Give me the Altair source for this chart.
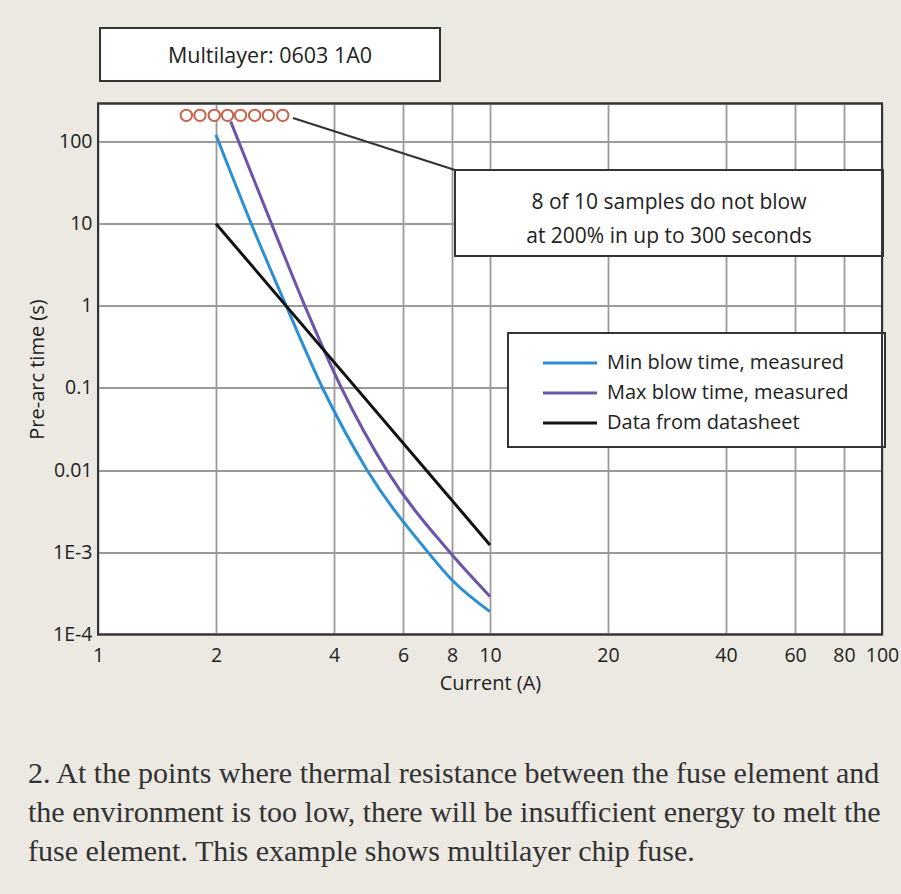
import altair as alt
import pandas as pd

# ---------------- data ----------------
series_names = ["Min blow time, measured", "Max blow time, measured", "Data from datasheet"]
series_colors = ["#2b90d0", "#6b55a8", "#111111"]

min_current = [2.0, 2.46, 3.02, 3.74, 4.86, 6.95, 8.0, 10.0]
min_time = [120, 10, 1, 0.1, 0.01, 0.001, 0.00046, 0.00019]

max_current = [2.18, 2.77, 3.37, 4.18, 5.45, 7.9, 10.0]
max_time = [175, 10, 1, 0.1, 0.01, 0.001, 0.00029]

ds_current = [2.0, 10.0]
ds_time = [10.0, 0.00123]

sample_current = [1.68, 1.82, 1.98, 2.14, 2.31, 2.51, 2.72, 2.96]
sample_time = [208, 208, 208, 208, 208, 208, 208, 208]

x_ticks = [1, 2, 4, 6, 8, 10, 20, 40, 60, 80, 100]
y_ticks = [0.0001, 0.001, 0.01, 0.1, 1, 10, 100]
y_tick_labels = ["1E-4", "1E-3", "0.01", "0.1", "1", "10", "100"]
x_domain = [1, 100]
y_domain = [0.0001, 290]

box_title = "Multilayer: 0603 1A0"
callout_lines = ["8 of 10 samples do not blow", "at 200% in up to 300 seconds"]
caption_lines = [
    "2. At the points where thermal resistance between the fuse element and",
    "the environment is too low, there will be insufficient energy to melt the",
    "fuse element. This example shows multilayer chip fuse.",
]

# ---------------- layout ----------------
W, H = 784, 531
PAD_L, PAD_T = 98, 103.5
SANS = "Open Sans"
SERIF = "Liberation Serif"
FS = 19.5
BG = "#ece9e3"
TXT = "#222222"
GRID = "#9a9a9a"

curves = pd.concat([
    pd.DataFrame({"series": series_names[0], "current": min_current, "time": min_time}),
    pd.DataFrame({"series": series_names[1], "current": max_current, "time": max_time}),
    pd.DataFrame({"series": series_names[2], "current": ds_current, "time": ds_time}),
], ignore_index=True)
samples = pd.DataFrame({"current": sample_current, "time": sample_time})

label_expr = ""
for v, lab in zip(y_ticks, y_tick_labels):
    label_expr += f"abs(log(datum.value) - log({v})) < 0.01 ? '{lab}' : "
label_expr += "''"

x_scale = alt.Scale(type="log", domain=x_domain, nice=False)
y_scale = alt.Scale(type="log", domain=y_domain, nice=False)

x_axis = alt.Axis(values=x_ticks, format="~g", grid=True, ticks=False, tickSize=0, domain=False,
                  labelFont=SANS, labelFontSize=FS, labelColor=TXT, labelPadding=12,
                  labelOverlap=False, labelBound=False, labelFlush=False,
                  title="Current (A)", titleFont=SANS, titleFontSize=20, titleFontWeight="normal",
                  titleColor=TXT, titlePadding=8,
                  gridColor=GRID, gridWidth=1.8, gridOpacity=1)
y_axis = alt.Axis(values=y_ticks, labelExpr=label_expr, grid=True, ticks=False, tickSize=0, domain=False,
                  labelFont=SANS, labelFontSize=FS, labelColor=TXT, labelPadding=6,
                  labelOverlap=False, labelBound=False, labelFlush=False,
                  title="Pre-arc time (s)", titleFont=SANS, titleFontSize=20, titleFontWeight="normal",
                  titleColor=TXT, titlePadding=5,
                  gridColor=GRID, gridWidth=1.8, gridOpacity=1)

color_scale = alt.Scale(domain=series_names, range=series_colors)

lines = alt.Chart(curves).mark_line(strokeWidth=3, interpolate="monotone").encode(
    x=alt.X("current:Q", scale=x_scale, axis=x_axis),
    y=alt.Y("time:Q", scale=y_scale, axis=y_axis),
    color=alt.Color("series:N", scale=color_scale, legend=None),
    detail="series:N",
)

points = alt.Chart(samples).mark_point(shape="circle", filled=False, size=130,
                                       strokeWidth=2, color="#c8644c", fill="white", fillOpacity=1).encode(
    x=alt.X("current:Q", scale=x_scale),
    y=alt.Y("time:Q", scale=y_scale),
)

one = alt.Data(values=[{}])

def box(x0, y0, x1, y1, fill_op=1):
    return alt.Chart(one).mark_rect(fill="white", fillOpacity=fill_op, stroke="#333333", strokeWidth=2).encode(
        x=alt.value(x0 - PAD_L), x2=alt.value(x1 - PAD_L),
        y=alt.value(y0 - PAD_T), y2=alt.value(y1 - PAD_T))

def text(t, x, y, size=FS, font=SANS, align="center", color=TXT, baseline="alphabetic"):
    return alt.Chart(one).mark_text(text=t, font=font, fontSize=size, align=align,
                                    baseline=baseline, color=color).encode(
        x=alt.value(x - PAD_L), y=alt.value(y - PAD_T))

leader = alt.Chart(one).mark_rule(color="#333333", strokeWidth=2).encode(
    x=alt.value(293 - PAD_L), y=alt.value(118 - PAD_T),
    x2=alt.value(455 - PAD_L), y2=alt.value(170 - PAD_T))

layers = [lines, leader, points]

# title box (above plot)
layers += [box(100, 28, 440, 81), text(box_title, 270, 63, size=21.5)]
# callout box
layers += [box(455, 170, 883, 256), text(callout_lines[0], 669, 209, size=21),
           text(callout_lines[1], 669, 243, size=21)]
# legend box
layers += [box(508, 333, 885, 447)]
legend_y = [363, 393, 423]
for name, col, ly in zip(series_names, series_colors, legend_y):
    layers.append(alt.Chart(one).mark_rule(color=col, strokeWidth=3).encode(
        x=alt.value(543 - PAD_L), x2=alt.value(597 - PAD_L),
        y=alt.value(ly - PAD_T), y2=alt.value(ly - PAD_T)))
    layers.append(text(name, 607, ly, size=20, align="left", baseline="middle"))
# plot frame on top of grid
layers.append(box(PAD_L, PAD_T, PAD_L + W, PAD_T + H, fill_op=0))
# caption
for cl, cy in zip(caption_lines, [783, 822, 861]):
    layers.append(text(cl, 28, cy, size=30, font=SERIF, align="left", color="#333333"))

chart = alt.layer(*layers).properties(
    width=W, height=H,
    autosize=alt.AutoSizeParams(type="none"),
    padding={"left": PAD_L, "top": PAD_T, "right": 901 - PAD_L - W, "bottom": 894 - PAD_T - H},
    background=BG,
).configure_view(stroke="#333333", strokeWidth=2, fill="white")

chart.save("out.html", embed_options={"renderer": "svg", "actions": False})
